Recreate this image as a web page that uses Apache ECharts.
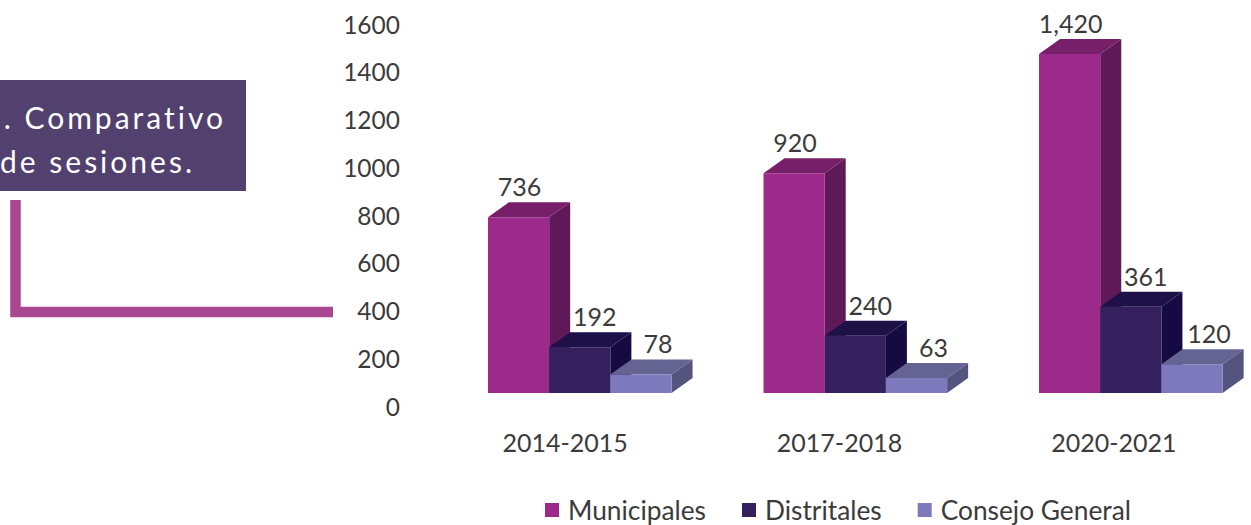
<!DOCTYPE html>
<html>
<head>
<meta charset="utf-8">
<style>
  html, body { margin: 0; padding: 0; background: #fff; }
  #main { width: 1251px; height: 525px; }
</style>
<script src="https://cdn.jsdelivr.net/npm/echarts@6/dist/echarts.min.js"></script>
</head>
<body>
<div id="main"></div>
<script>
  const categories = ['2014-2015', '2017-2018', '2020-2021'];
  const municipales = [736, 920, 1420];
  const distritales = [192, 240, 361];
  const consejoGeneral = [78, 63, 120];

  const fontName = 'Lato';
  const textColor = '#3b3b3b';

  // caras de cada serie: frente, tapa, lado
  const shades = [
    { front: '#9B2A8A', top: '#771F68', side: '#5F1858', labelDx: 1 },
    { front: '#33205C', top: '#1D1147', side: '#160A42', labelDx: 15 },
    { front: '#7E79BC', top: '#656391', side: '#55547E', labelDx: 17 }
  ];

  const depthX = 21;
  const depthY = 15;
  const baseLift = 13; // la base de las barras queda arriba de la etiqueta 0
  const barWidth = 61.2;

  function bar3d(seriesIndex) {
    const s = shades[seriesIndex];
    return function (params, api) {
      const value = api.value(1);
      const center = api.coord([api.value(0), 0]);
      const top = api.coord([api.value(0), value]);
      // los grupos de barras se separan un poco mas que las etiquetas del eje
      const x0 = center[0] + 14.6 + api.value(0) * 1.2 + (seriesIndex - 1.5) * barWidth;
      const x1 = x0 + barWidth;
      const yb = center[1] - baseLift;
      const yt = top[1] - baseLift;
      return {
        type: 'group',
        children: [
          {
            type: 'polygon',
            shape: { points: [[x1, yb], [x1 + depthX, yb - depthY], [x1 + depthX, yt - depthY], [x1, yt]] },
            style: { fill: s.side }
          },
          {
            type: 'polygon',
            shape: { points: [[x0, yt], [x0 + depthX, yt - depthY], [x1 + depthX, yt - depthY], [x1, yt]] },
            style: { fill: s.top }
          },
          {
            type: 'rect',
            shape: { x: x0, y: yt, width: barWidth, height: yb - yt },
            style: { fill: s.front }
          },
          {
            type: 'text',
            x: (x0 + x1) / 2 + s.labelDx,
            y: yt - depthY - 16,
            style: {
              text: value.toLocaleString('en-US'),
              font: '25px ' + fontName,
              fill: textColor,
              align: 'center',
              verticalAlign: 'middle'
            }
          }
        ]
      };
    };
  }

  function makeSeries(name, values, i) {
    return {
      name: name,
      type: 'custom',
      renderItem: bar3d(i),
      itemStyle: { color: shades[i].front },
      encode: { x: 0, y: 1 },
      data: values.map((v, k) => [k, v]),
      clip: false,
      z: 2 + i
    };
  }

  let myChart = echarts.init(document.getElementById('main'), null, { renderer: 'svg' });
  let option = {
    animation: false,
    backgroundColor: '#fff',
    grid: { left: 428, top: 24, width: 823, height: 382, outerBoundsMode: 'none' },
    xAxis: {
      type: 'category',
      data: categories,
      axisLine: { show: false },
      axisTick: { show: false },
      axisLabel: { color: textColor, fontFamily: fontName, fontSize: 25, margin: 23 }
    },
    yAxis: {
      type: 'value',
      min: 0,
      max: 1600,
      interval: 200,
      splitLine: { show: false },
      axisLine: { show: false },
      axisTick: { show: false },
      axisLabel: {
        color: textColor,
        fontFamily: fontName,
        fontSize: 24.5,
        margin: 28,
        formatter: function (v) { return String(v); }
      }
    },
    legend: {
      left: 545,
      top: 497,
      padding: 0,
      icon: 'rect',
      itemWidth: 14,
      itemHeight: 14,
      itemGap: 36,
      textStyle: { color: textColor, fontFamily: fontName, fontSize: 26.3, padding: [0, 0, 0, 4] },
      data: ['Municipales', 'Distritales', 'Consejo General']
    },
    series: [
      makeSeries('Municipales', municipales, 0),
      makeSeries('Distritales', distritales, 1),
      makeSeries('Consejo General', consejoGeneral, 2)
    ],
    graphic: [
      { type: 'rect', shape: { x: 0, y: 80, width: 246, height: 111 }, style: { fill: '#52416F' } },
      {
        type: 'text', x: 226, y: 117,
        style: { text: '. Comparativo', font: '30px Lato', fill: '#fff', align: 'right', verticalAlign: 'middle' }
      },
      {
        type: 'text', x: 195, y: 161,
        style: { text: 'de sesiones.', font: '30px Lato', fill: '#fff', align: 'right', verticalAlign: 'middle' }
      },
      {
        type: 'polyline',
        shape: { points: [[15.5, 200], [15.5, 312], [333, 312]] },
        style: { stroke: '#A8478F', lineWidth: 10.5, fill: null, lineJoin: 'miter' }
      }
    ]
  };
  myChart.setOption(option);

  // el texto del recuadro va espaciado; echarts no tiene letter spacing
  document.querySelectorAll('#main svg text').forEach(function (t) {
    if (t.textContent === '. Comparativo' || t.textContent === 'de sesiones.') {
      t.style.letterSpacing = '3px';
    }
  });
</script>
</body>
</html>
